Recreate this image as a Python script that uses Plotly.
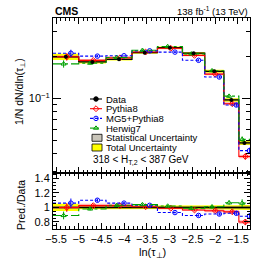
import plotly.graph_objects as go

# ---------------- data ----------------
edges = [-5.566, -5.0, -4.4, -3.83, -3.27, -2.72, -2.23, -1.81, -1.48, -1.235]
data = [0.198, 0.182, 0.190, 0.212, 0.230, 0.210, 0.156, 0.0973, 0.048]
stat_rel = [0.012, 0.01, 0.01, 0.01, 0.01, 0.012, 0.015, 0.02, 0.025]
tot_rel = [0.05, 0.025, 0.02, 0.02, 0.02, 0.02, 0.025, 0.03, 0.035]
pythia_ratio = [1.00, 1.025, 1.025, 1.01, 0.99, 0.965, 0.955, 0.94, 0.80]
mg5_ratio = [1.06, 1.10, 1.06, 1.03, 0.93, 0.89, 0.91, 0.92, 0.88]
herwig_ratio = [0.89, 0.98, 1.03, 1.04, 1.02, 0.99, 1.01, 1.065, 1.06]
mc_err_rel = [0.06, 0.02, 0.015, 0.015, 0.015, 0.02, 0.025, 0.03, 0.05]
pythia_band_rel = [0.02, 0.025, 0.025, 0.015, 0.015, 0.015, 0.02, 0.025, 0.03]

xtick_vals = [-5.5, -5.0, -4.5, -4.0, -3.5, -3.0, -2.5, -2.0, -1.5]
xtick_text = ["\u22125.5", "\u22125", "\u22124.5", "\u22124", "\u22123.5", "\u22123", "\u22122.5", "\u22122", "\u22121.5"]
ratio_tick_vals = [0.8, 1.0, 1.2, 1.4]
ratio_tick_text = ["0.8", "1", "1.2", "1.4"]
top_major = [0.1]
top_major_text = ["10<sup>\u22121</sup>"]
top_minor = [0.03, 0.04, 0.05, 0.06, 0.07, 0.08, 0.09, 0.2, 0.3]

labels = ["Data", "Pythia8", "MG5+Pythia8", "Herwig7", "Statistical Uncertainty", "Total Uncertainty"]

# ---------------- style ----------------
FONT = "Liberation Sans, Arial, Helvetica, sans-serif"
C_PY = "#ff0000"
C_MG = "#0000ff"
C_HW = "#00a000"
C_TOT = "#ffff00"
C_STAT = "rgba(120,110,80,0.45)"
C_PYB = "rgba(255,110,110,0.55)"
MG_DASH = "3px,2px"

W, H = 254, 271
ML, MR, MT, MB = 53, 4, 18, 42

centers = [(edges[i] + edges[i + 1]) / 2 for i in range(len(data))]
n = len(data)

pythia = [data[i] * pythia_ratio[i] for i in range(n)]
mg5 = [data[i] * mg5_ratio[i] for i in range(n)]
herwig = [data[i] * herwig_ratio[i] for i in range(n)]


def px(xp):
    return (xp - ML) / (W - ML - MR)


def py(yp):
    return 1 - (yp - MT) / (H - MT - MB)


def step(vals):
    return edges, list(vals) + [vals[-1]]


def band(lo, hi):
    xs, ys = [], []
    for i in range(n):
        xs += [edges[i], edges[i + 1]]
        ys += [hi[i], hi[i]]
    for i in reversed(range(n)):
        xs += [edges[i + 1], edges[i]]
        ys += [lo[i], lo[i]]
    return xs, ys


fig = go.Figure()


def add_panel(vals_data, preds, xa, ya, ratio):
    base = [1.0] * n if ratio else vals_data
    bx, by = band([base[i] * (1 - tot_rel[i]) for i in range(n)],
                  [base[i] * (1 + tot_rel[i]) for i in range(n)])
    fig.add_trace(go.Scatter(x=bx, y=by, fill="toself", fillcolor=C_TOT, line=dict(width=0),
                             mode="lines", xaxis=xa, yaxis=ya, hoverinfo="skip"))
    bx, by = band([base[i] * (1 - stat_rel[i]) for i in range(n)],
                  [base[i] * (1 + stat_rel[i]) for i in range(n)])
    fig.add_trace(go.Scatter(x=bx, y=by, fill="toself", fillcolor=C_STAT, line=dict(width=0),
                             mode="lines", xaxis=xa, yaxis=ya, hoverinfo="skip"))
    pyv = preds[0]
    bx, by = band([pyv[i] * (1 - pythia_band_rel[i]) for i in range(n)],
                  [pyv[i] * (1 + pythia_band_rel[i]) for i in range(n)])
    fig.add_trace(go.Scatter(x=bx, y=by, fill="toself", fillcolor=C_PYB, line=dict(width=0),
                             mode="lines", xaxis=xa, yaxis=ya, hoverinfo="skip"))
    sx, sy = step(base)
    fig.add_trace(go.Scatter(x=sx, y=sy, mode="lines", line=dict(color="black", width=1.3, shape="hv"),
                             xaxis=xa, yaxis=ya))
    styles = [(C_PY, "solid", "diamond-open", 0.02),
              (C_MG, MG_DASH, "circle-open", 0.11),
              (C_HW, "dashdot", "triangle-up-open", -0.05)]
    for vals, (col, dash, sym, off) in zip(preds, styles):
        sx, sy = step(vals)
        fig.add_trace(go.Scatter(x=sx, y=sy, mode="lines",
                                 line=dict(color=col, width=1.1, dash=dash, shape="hv"),
                                 xaxis=xa, yaxis=ya))
        fig.add_trace(go.Scatter(x=[c + off for c in centers], y=vals, mode="markers",
                                 marker=dict(symbol=sym, size=4.5, color=col, line=dict(width=1, color=col)),
                                 error_y=dict(type="data", array=[vals[i] * mc_err_rel[i] for i in range(n)],
                                              color=col, thickness=1, width=0),
                                 xaxis=xa, yaxis=ya))
    if not ratio:
        fig.add_trace(go.Scatter(x=centers, y=vals_data, mode="markers",
                                 marker=dict(symbol="circle", size=4, color="black"),
                                 error_y=dict(type="data", array=[vals_data[i] * stat_rel[i] for i in range(n)],
                                              color="black", thickness=1, width=0),
                                 xaxis=xa, yaxis=ya))


add_panel(data, [pythia, mg5, herwig], "x2", "y2", False)
add_panel(data, [pythia_ratio, mg5_ratio, herwig_ratio], "x", "y", True)

# ---------------- legend (drawn on a pixel-unit overlay axis) ----------------
leg_y = [99, 108.7, 118.4, 128.1, 137.8, 147.5]
leg_styles = [("black", "solid", "circle"), (C_PY, "solid", "diamond-open"),
              (C_MG, MG_DASH, "circle-open"), (C_HW, "dashdot", "triangle-up-open")]
for yy, (col, dash, sym) in zip(leg_y[:4], leg_styles):
    fig.add_trace(go.Scatter(x=[90, 102], y=[yy, yy], mode="lines", line=dict(color=col, width=1.1, dash=dash),
                             xaxis="x3", yaxis="y3"))
    fig.add_trace(go.Scatter(x=[96], y=[yy], mode="markers",
                             marker=dict(symbol=sym, size=4.5, color=col, line=dict(width=1, color=col)),
                             xaxis="x3", yaxis="y3"))
shapes = []
for yy, col in zip(leg_y[4:], ["rgb(201,197,185)", C_TOT]):
    shapes.append(dict(type="rect", xref="x3", yref="y3", x0=92, x1=102, y0=yy - 3.5, y1=yy + 3.5,
                       fillcolor=col, line=dict(color="black", width=0.8)))

annotations = []
for yy, t in zip(leg_y, labels):
    annotations.append(dict(x=104, y=yy, xref="x3", yref="y3", text=t, showarrow=False,
                            xanchor="left", yanchor="middle", font=dict(size=9.5, family=FONT, color="black")))
annotations.append(dict(x=91, y=160, xref="x3", yref="y3",
                        text="318 < H<sub>T,2</sub> < 387 GeV", showarrow=False,
                        xanchor="left", yanchor="middle", font=dict(size=10, family=FONT, color="black")))
annotations.append(dict(x=px(53), y=py(11), xref="paper", yref="paper", text="<b>CMS</b>", showarrow=False,
                        xanchor="left", yanchor="middle", font=dict(size=10.5, family=FONT, color="black")))
annotations.append(dict(x=px(250), y=py(11), xref="paper", yref="paper", text="138 fb<sup>-1</sup> (13 TeV)",
                        showarrow=False, xanchor="right", yanchor="middle",
                        font=dict(size=9.5, family=FONT, color="black")))
annotations.append(dict(x=px(20), y=py(92), xref="paper", yref="paper",
                        text="1/N dN/dln(\u03c4<sub>\u22a5</sub>)",
                        showarrow=False, textangle=-90, xanchor="center", yanchor="middle",
                        font=dict(size=10.5, family=FONT, color="black")))
annotations.append(dict(x=px(21), y=py(205), xref="paper", yref="paper", text="Pred./Data",
                        showarrow=False, textangle=-90, xanchor="center", yanchor="middle",
                        font=dict(size=10.5, family=FONT, color="black")))
annotations.append(dict(x=px(152), y=py(253), xref="paper", yref="paper", text="ln(\u03c4<sub>\u22a5</sub>)",
                        showarrow=False, xanchor="center", yanchor="middle",
                        font=dict(size=11, family=FONT, color="black")))

split = 56 / 211
common_x = dict(range=[edges[0], edges[-1]], showline=True, linecolor="black", linewidth=1, mirror="allticks",
                ticks="inside", ticklen=6, tickcolor="black", tickvals=xtick_vals,
                minor=dict(dtick=0.1, tick0=-5.5, ticklen=3, ticks="inside", tickcolor="black"),
                showgrid=False, zeroline=False)

fig.update_layout(
    width=W, height=H,
    margin=dict(l=ML, r=MR, t=MT, b=MB),
    paper_bgcolor="white", plot_bgcolor="rgba(0,0,0,0)",
    showlegend=False,
    font=dict(family=FONT, size=11, color="black"),
    xaxis=dict(common_x, anchor="y", ticktext=xtick_text, showticklabels=True,
               tickfont=dict(size=11, family=FONT)),
    xaxis2=dict(common_x, anchor="y2", matches="x", showticklabels=False),
    yaxis=dict(domain=[0, split], range=[0.703, 1.476], showline=True, linecolor="black", linewidth=1,
               mirror="allticks", ticks="inside", ticklen=6, tickcolor="black",
               tickvals=ratio_tick_vals, ticktext=ratio_tick_text, tickfont=dict(size=11, family=FONT),
               minor=dict(dtick=0.05, tick0=0.7, ticklen=3, ticks="inside", tickcolor="black"),
               showgrid=False, zeroline=False),
    yaxis2=dict(domain=[split, 1], type="log", range=[-1.534, -0.426], showline=True, linecolor="black",
                linewidth=1, mirror="allticks", ticks="inside", ticklen=8, tickcolor="black",
                tickvals=top_major, ticktext=top_major_text, tickfont=dict(size=11, family=FONT),
                minor=dict(tickvals=top_minor, ticklen=4, ticks="inside", tickcolor="black"),
                showgrid=False, zeroline=False),
    xaxis3=dict(domain=[0, 1], range=[ML, W - MR], anchor="y3", visible=False),
    yaxis3=dict(domain=[0, 1], range=[H - MB, MT], anchor="x3", visible=False),
    shapes=shapes,
    annotations=annotations,
)

fig.write_html("out.html", config={"displayModeBar": False, "staticPlot": True},
               post_script="document.body.style.margin='0';document.body.style.overflow='hidden';")
